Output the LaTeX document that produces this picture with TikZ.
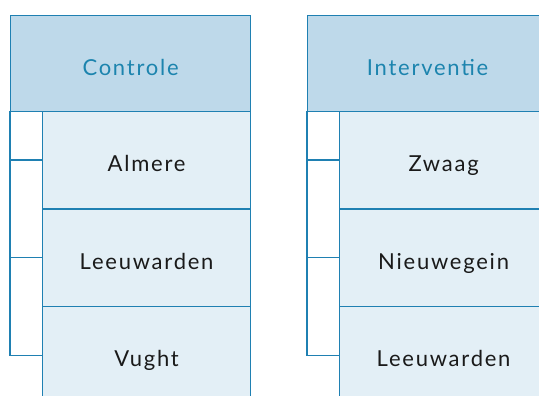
\documentclass[tikz,border=0pt]{standalone}
\usepackage{fontspec}
\setmainfont{Lato}[LetterSpace=8]
\definecolor{edge}{HTML}{1F80B2}
\definecolor{headfill}{HTML}{BED9EA}
\definecolor{headtext}{HTML}{1C84AE}
\definecolor{itemfill}{HTML}{E3EFF6}
\definecolor{itemtext}{HTML}{1A1A1A}
\tikzset{
  headbox/.style={draw=edge, line width=1.2pt, fill=headfill, text=headtext,
    minimum width=240pt, minimum height=96pt, inner sep=0pt,
    text height=24pt, text depth=0pt, font=\fontsize{22}{24}\selectfont},
  itembox/.style={draw=edge, line width=1.2pt, fill=itemfill, text=itemtext,
    minimum width=208pt, minimum height=97pt, inner sep=0pt,
    text height=23pt, text depth=0pt, font=\fontsize{22}{24}\selectfont},
  link/.style={draw=edge, line width=1.2pt},
}
\begin{document}
\begin{tikzpicture}[x=1pt, y=-1pt]
\useasboundingbox (0,0) rectangle (539,396);
\clip (0,0) rectangle (539,396);
\fill[white] (0,0) rectangle (539,396);
% control group
\node[headbox, anchor=north west] (c) at (10,15) {Controle};
\node[itembox, anchor=north west] (c1) at (42,111) {Almere};
\node[itembox, anchor=north west] (c2) at (42,208.5) {Leeuwarden};
\node[itembox, anchor=north west] (c3) at (42,306) {Vught};
\coordinate (cb) at (10,111);
\draw[link] (cb) |- (c3.west);
\draw[link] (cb |- c1.west) -- (c1.west);
\draw[link] (cb |- c2.west) -- (c2.west);
% intervention group
\node[headbox, anchor=north west] (i) at (307,15) {Interventie};
\node[itembox, anchor=north west] (i1) at (339,111) {Zwaag};
\node[itembox, anchor=north west] (i2) at (339,208.5) {Nieuwegein};
\node[itembox, anchor=north west] (i3) at (339,306) {Leeuwarden};
\coordinate (ib) at (307,111);
\draw[link] (ib) |- (i3.west);
\draw[link] (ib |- i1.west) -- (i1.west);
\draw[link] (ib |- i2.west) -- (i2.west);
\end{tikzpicture}
\end{document}
